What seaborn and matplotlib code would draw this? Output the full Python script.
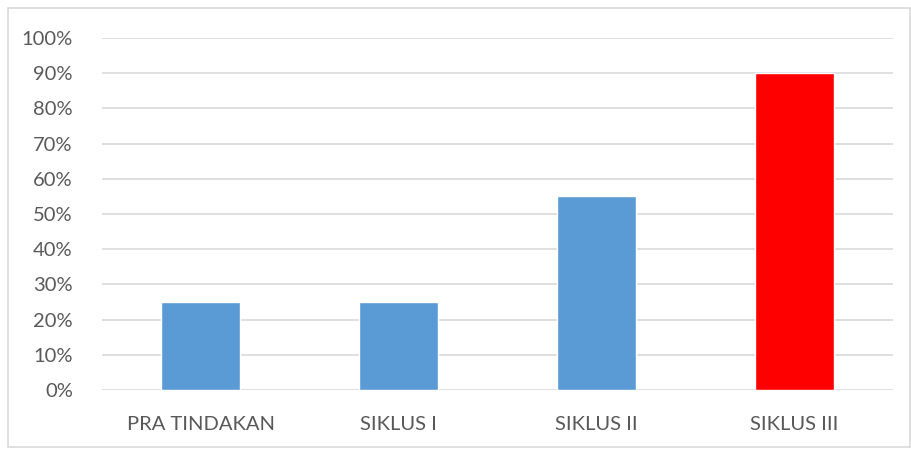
import matplotlib
matplotlib.use("Agg")
import matplotlib.pyplot as plt
from matplotlib.patches import Rectangle
from matplotlib.ticker import PercentFormatter
import seaborn as sns
import pandas as pd

categories = ["PRA TINDAKAN", "SIKLUS I", "SIKLUS II", "SIKLUS III"]
values = [0.25, 0.25, 0.55, 0.90]
colors = ["#5B9BD5", "#5B9BD5", "#5B9BD5", "#FF0000"]
yticks = [0, 0.1, 0.2, 0.3, 0.4, 0.5, 0.6, 0.7, 0.8, 0.9, 1.0]

sns.set_theme(style="white")
plt.rcParams['font.family'] = ['Lato', 'DejaVu Sans']

df = pd.DataFrame({"cat": categories, "val": values})

fig = plt.figure(figsize=(9.12, 4.49), dpi=100)
ax = fig.add_axes([102/912, 1-390/449, 791/912, 352/449])

sns.barplot(data=df, x="cat", y="val", hue="cat", palette=colors, legend=False,
            width=0.4, ax=ax, saturation=1, zorder=3)

ax.set_ylim(0, 1)
ax.set_xlim(-0.5, 3.5)
ax.set_yticks(yticks)
ax.yaxis.set_major_formatter(PercentFormatter(1.0, decimals=0))
ax.grid(axis="y", color="#D9D9D9", linewidth=1.2, zorder=0)
ax.set_axisbelow(True)
for s in ax.spines.values():
    s.set_visible(False)
ax.set_xlabel("")
ax.set_ylabel("")
ax.tick_params(axis="both", length=0, labelsize=14.5, labelcolor="#595959")
ax.tick_params(axis="x", pad=19)
ax.tick_params(axis="y", pad=21)

fig.patches.append(Rectangle((8/912, 2/449), 902/912, 439/449, transform=fig.transFigure,
                             fill=False, edgecolor="#D9D9D9", linewidth=1.2))

fig.savefig("out.png", dpi=100)
